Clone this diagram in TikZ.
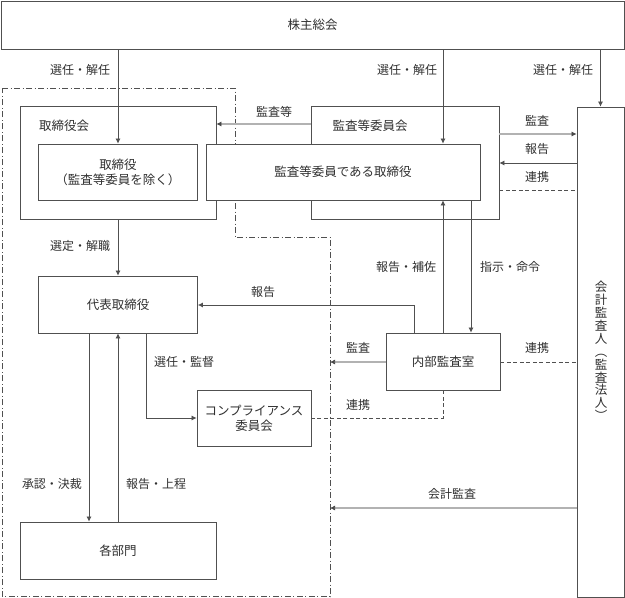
\documentclass[tikz,border=0pt]{standalone}
\usepackage{fontspec}
\setmainfont{Noto Sans CJK JP}
\usetikzlibrary{arrows.meta}
\definecolor{ln}{HTML}{505050}
\definecolor{tx}{HTML}{303030}
\tikzset{
  box/.style={draw=ln, line width=0.8pt, fill=white, inner sep=0pt, text=tx, font=\fontsize{12.5}{15}\selectfont, align=center},
  lbl/.style={inner sep=0pt, text=tx, font=\fontsize{12}{14}\selectfont},
  arr/.style={draw=ln, line width=0.7pt, -{Latex[length=5pt,width=5pt]}},
  dbl/.style={draw=ln!90!black, line width=0.7pt, double=gray!60, double distance=1.3pt, -{Latex[length=5pt,width=5pt]}},
  dsh/.style={draw=ln, line width=0.7pt, dash pattern=on 4pt off 2.5pt},
  dd/.style={draw=ln, line width=0.7pt, dash pattern=on 6pt off 2.5pt on 1pt off 2.5pt},
}
\begin{document}
\begin{tikzpicture}[x=1pt,y=-1pt]
\useasboundingbox (0,0) rectangle (625,598);
% dash-dot region
\draw[dd] (2,88) -- (235,88) -- (235,237) -- (330,237) -- (330,596.5) -- (2,596.5) -- cycle;
% boxes
\node[box, minimum width=623, minimum height=48] (kabu) at (312.5,25) {株主総会};
\node[box, minimum width=196, minimum height=113] (torikai) at (118,162.5) {};
\node[lbl, font=\fontsize{12.5}{15}\selectfont] (torikaiL) at (64,126) {取締役会};
\node[box, minimum width=188, minimum height=113] (kansakai) at (405,162.5) {};
\node[lbl, font=\fontsize{12.5}{15}\selectfont] (kansakaiL) at (370,126) {監査等委員会};
\node[box, minimum width=159, minimum height=56] (tori) at (118,172) {取締役\\（監査等委員を除く）};
\node[box, minimum width=274, minimum height=56] (kansatori) at (343,172) {監査等委員である取締役};
\node[box, minimum width=47, minimum height=490] (kaikei) at (600.5,352) {};
\node[lbl, align=center, font=\fontsize{12.5}{12.9}\selectfont] (kaikeiL) at (601,351) {会\\計\\監\\査\\人\\︵\\監\\査\\法\\人\\︶};
\node[box, minimum width=159, minimum height=57] (daihyo) at (118,304.5) {代表取締役};
\node[box, minimum width=114, minimum height=57] (naibu) at (443,361.5) {内部監査室};
\node[box, minimum width=114, minimum height=56] (comp) at (254,418) {コンプライアンス\\委員会};
\node[box, minimum width=196, minimum height=57] (kakubu) at (118,550.5) {各部門};
% connectors from 株主総会
\draw[arr] (kabu.south -| tori) -- (tori.north);
\draw[arr] (kabu.south -| naibu) -- (kansatori.north -| naibu);
\draw[arr] (kabu.south -| kaikei) -- (kaikei.north);
\node[lbl] (l1) at (80,70) {選任・解任};
\node[lbl] (l2) at (407,70) {選任・解任};
\node[lbl] (l3) at (563,70) {選任・解任};
% 監査等
\draw[dbl] (kansakai.west |- 0,124) -- (torikai.east |- 0,124);
\node[lbl] (l4) at (274,112) {監査等};
% 監査等委員会 <-> 会計監査人
\draw[dbl] (kansakai.east |- 0,134) -- (kaikei.west |- 0,134);
\node[lbl] (l5) at (537,121) {監査};
\draw[arr] (kaikei.west |- 0,163) -- (kansakai.east |- 0,163);
\node[lbl] (l6) at (537,149) {報告};
\draw[dsh] (kansakai.east |- 0,190) -- (kaikei.west |- 0,190);
\node[lbl] (l7) at (537,177) {連携};
% 取締役会 -> 代表取締役
\draw[arr] (torikai.south -| daihyo) -- (daihyo.north);
\node[lbl] (l8) at (80,246) {選定・解職};
% 内部監査室 -> 代表取締役 報告
\draw[arr] (naibu.north -| 414,0) |- (daihyo.east |- 0,305);
\node[lbl] (l9) at (263,292) {報告};
% 内部監査室 <-> 監査等委員である取締役
\draw[arr] (naibu.north) -- (kansatori.south -| naibu);
\node[lbl] (l10) at (406,267) {報告・補佐};
\draw[arr] (kansatori.south -| 471,0) -- (naibu.north -| 471,0);
\node[lbl] (l11) at (510,267) {指示・命令};
% 内部監査室 監査
\coordinate (c1) at (330,362);
\draw[dbl] (naibu.west |- c1) -- (c1);
\node[lbl] (l12) at (358,348) {監査};
\draw[dsh] (naibu.east |- 0,362) -- (kaikei.west |- 0,362);
\node[lbl] (l13) at (537,348) {連携};
\draw[dsh] (naibu.south) |- (comp.east);
\node[lbl] (l14) at (358,405) {連携};
% 代表取締役 -> コンプライアンス
\draw[arr] (daihyo.south -| 146,0) |- (comp.west);
\node[lbl] (l15) at (184,362) {選任・監督};
% 代表取締役 <-> 各部門
\draw[arr] (daihyo.south -| 89,0) -- (kakubu.north -| 89,0);
\node[lbl] (l16) at (52,484) {承認・決裁};
\draw[arr] (kakubu.north) -- (daihyo.south);
\node[lbl] (l17) at (156,484) {報告・上程};
% 会計監査
\coordinate (c2) at (330,508);
\draw[dbl] (kaikei.west |- c2) -- (c2);
\node[lbl] (l18) at (452,494) {会計監査};
\end{tikzpicture}
\end{document}
